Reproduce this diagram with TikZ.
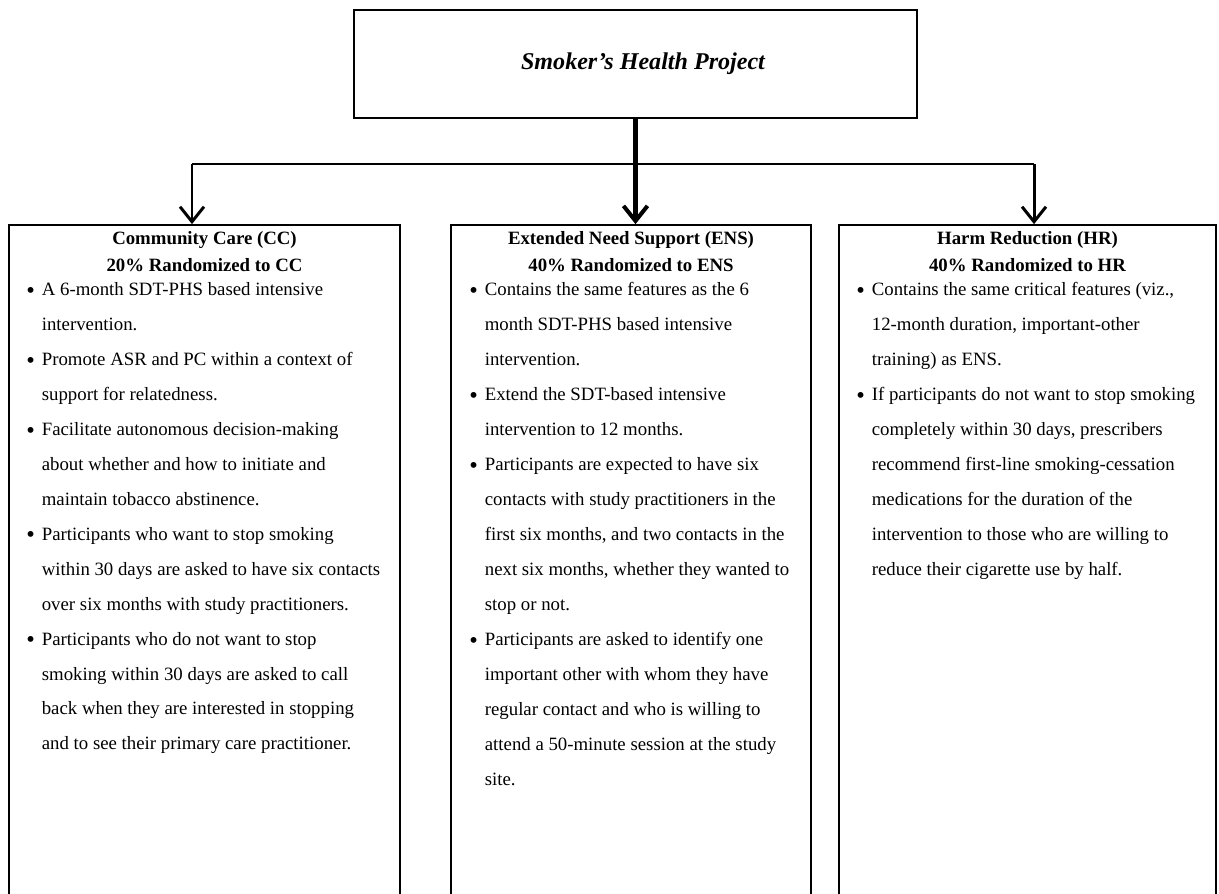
\documentclass[tikz,border=0pt]{standalone}
\usepackage{fontspec}
\setmainfont{Liberation Serif}
\usetikzlibrary{positioning, arrows.meta, calc}

\newcommand{\bul}{\makebox[0.31cm][l]{\raisebox{-1.6pt}{\scalebox{1.3}{\textbullet}}}}
\newcommand{\ind}{\hspace*{0.31cm}}

\begin{document}
\begin{tikzpicture}[
  x=0.02cm, y=-0.02cm,
  every node/.style={font=\fontsize{10.7}{19.9}\selectfont},
  topbox/.style={draw, line width=1.5pt, minimum width=11.26cm, minimum height=2.16cm,
                 font=\fontsize{13.7}{16}\selectfont\bfseries\itshape},
  armbox/.style={draw, line width=1.1pt, minimum height=14.5cm},
  head/.style={inner sep=0pt, align=center, anchor=north,
               font=\fontsize{10.7}{15.4}\selectfont\bfseries},
  items/.style={inner sep=0pt, align=left, anchor=north west},
  bus/.style={line width=1.1pt},
  arr/.style={line width=1.7pt, -{Straight Barb[length=3mm, width=4.8mm]}},
  bigarr/.style={line width=2.3pt, -{Straight Barb[length=3mm, width=4.8mm]}}
]
\useasboundingbox (0,0) rectangle (1219,893);
\clip (0,0) rectangle (1219,893);

%--- Root ---
\node[topbox] (shp) at (635.5,64) {\hspace*{0.3cm}Smoker's Health Project};

%--- Arms (open at the bottom) ---
\node[armbox, minimum width=7.82cm] (ccbox) at (204.5,587.5) {};
\node[armbox, minimum width=7.2cm] (ensbox) at (631,587.5) {};
\node[armbox, minimum width=7.54cm] (hrbox) at (1027.5,587.5) {};

%--- Connectors ---
\coordinate (busL) at (192,164);
\coordinate (busR) at (1034,164);
\draw[bus] (busL) -- (busR);
\draw[arr] (busL) -- (busL |- ccbox.north);
\draw[arr] (busR) -- (busR |- hrbox.north);
\draw[bigarr] (shp.south) -- (shp.south |- ensbox.north);

%--- Community Care ---
\node[head] (cchead) at (204.5,231) {Community Care (CC)\\20\% Randomized to CC};
\node[items] (cclist) at (26,282) {%
  \bul A 6-month SDT-PHS based intensive\\
  \ind intervention.\\
  \bul Promote ASR and PC within a context of\\
  \ind support for relatedness.\\
  \bul Facilitate autonomous decision-making\\
  \ind about whether and how to initiate and\\
  \ind maintain tobacco abstinence.\\
  \bul Participants who want to stop smoking\\
  \ind within 30 days are asked to have six contacts\\
  \ind over six months with study practitioners.\\
  \bul Participants who do not want to stop\\
  \ind smoking within 30 days are asked to call\\
  \ind back when they are interested in stopping\\
  \ind and to see their primary care practitioner.};

%--- Extended Need Support ---
\node[head] (enshead) at (631,231) {Extended Need Support (ENS)\\40\% Randomized to ENS};
\node[items] (enslist) at (469,282) {%
  \bul Contains the same features as the 6\\
  \ind month SDT-PHS based intensive\\
  \ind intervention.\\
  \bul Extend the SDT-based intensive\\
  \ind intervention to 12 months.\\
  \bul Participants are expected to have six\\
  \ind contacts with study practitioners in the\\
  \ind first six months, and two contacts in the\\
  \ind next six months, whether they wanted to\\
  \ind stop or not.\\
  \bul Participants are asked to identify one\\
  \ind important other with whom they have\\
  \ind regular contact and who is willing to\\
  \ind attend a 50-minute session at the study\\
  \ind site.};

%--- Harm Reduction ---
\node[head] (hrhead) at (1027.5,231) {Harm Reduction (HR)\\40\% Randomized to HR};
\node[items] (hrlist) at (856,282) {%
  \bul Contains the same critical features (viz.,\\
  \ind 12-month duration, important-other\\
  \ind training) as ENS.\\
  \bul If participants do not want to stop smoking\\
  \ind completely within 30 days, prescribers\\
  \ind recommend first-line smoking-cessation\\
  \ind medications for the duration of the\\
  \ind intervention to those who are willing to\\
  \ind reduce their cigarette use by half.};

\end{tikzpicture}
\end{document}
